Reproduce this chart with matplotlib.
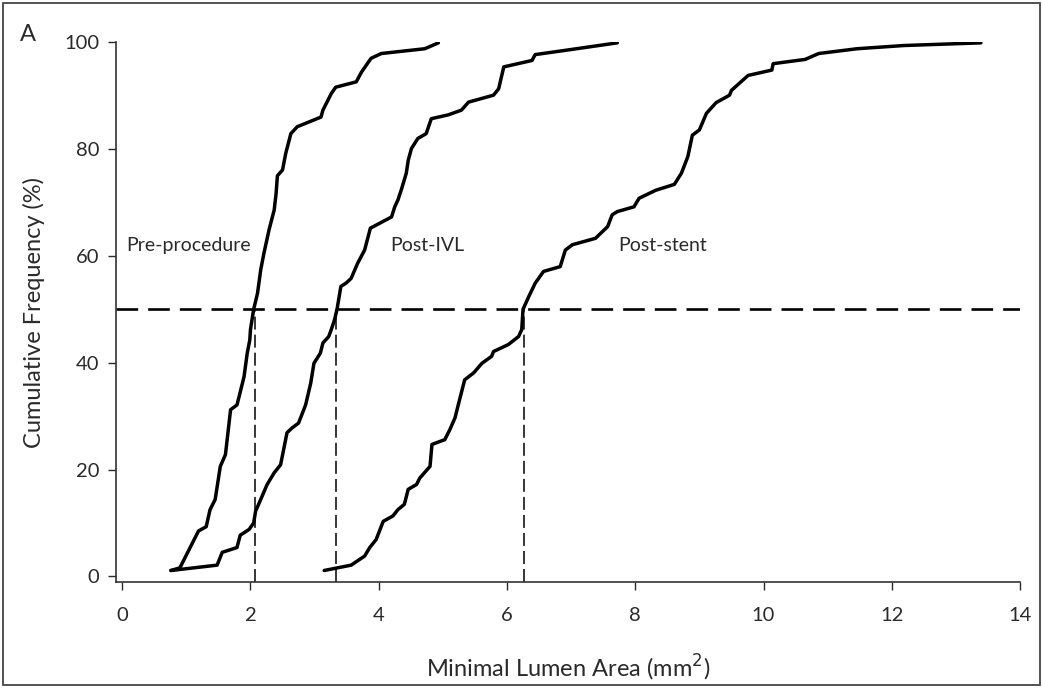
import matplotlib
matplotlib.use("Agg")
import matplotlib.pyplot as plt
from matplotlib.patches import Rectangle

# ==========================================
# DATA
# ==========================================
pre_x = [0.76, 0.90, 1.03, 1.19, 1.31, 1.37, 1.45, 1.53, 1.61, 1.69, 1.79, 1.83, 1.90,
         1.95, 1.99, 2.00, 2.05, 2.11, 2.16, 2.21, 2.29, 2.37, 2.40, 2.42, 2.50, 2.55,
         2.63, 2.73, 3.10, 3.13, 3.26, 3.33, 3.65, 3.73, 3.88, 4.04, 4.72, 4.93]
pre_y = [1.1, 1.6, 4.7, 8.5, 9.3, 12.5, 14.4, 20.6, 22.8, 31.2, 32.1, 34.0, 37.4,
         41.8, 44.3, 46.2, 50.0, 53.0, 57.4, 60.5, 64.9, 68.6, 71.7, 75.0, 76.1, 79.2,
         82.9, 84.2, 86.0, 87.3, 90.4, 91.6, 92.6, 94.4, 97.0, 97.9, 98.8, 99.9]

ivl_x = [0.76, 1.48, 1.56, 1.79, 1.84, 1.98, 2.05, 2.08, 2.16, 2.26, 2.37, 2.47, 2.57,
         2.65, 2.75, 2.86, 2.94, 2.99, 3.09, 3.13, 3.22, 3.26, 3.31, 3.35, 3.41, 3.49,
         3.57, 3.67, 3.78, 3.87, 4.20, 4.25, 4.30, 4.35, 4.43, 4.46, 4.51, 4.61, 4.74,
         4.82, 5.08, 5.29, 5.40, 5.79, 5.87, 5.95, 6.39, 6.44, 6.97, 7.72]
ivl_y = [1.1, 2.1, 4.5, 5.4, 7.7, 8.8, 10.0, 12.2, 14.4, 17.2, 19.4, 20.9, 26.9,
         27.8, 28.7, 32.1, 36.2, 39.9, 41.8, 43.7, 44.9, 46.2, 48.0, 50.0, 54.3, 54.9,
         55.8, 58.6, 61.1, 65.2, 67.3, 69.2, 70.5, 72.3, 75.5, 77.9, 80.1, 82.0, 82.9,
         85.7, 86.4, 87.3, 88.8, 90.1, 91.3, 95.4, 96.6, 97.7, 98.6, 99.9]

stent_x = [3.15, 3.57, 3.78, 3.86, 3.96, 4.07, 4.22, 4.30, 4.40, 4.46, 4.59, 4.64, 4.80,
           4.83, 5.03, 5.11, 5.19, 5.24, 5.34, 5.48, 5.61, 5.76, 5.79, 6.02, 6.18, 6.23,
           6.25, 6.34, 6.44, 6.57, 6.83, 6.91, 7.02, 7.38, 7.57, 7.64, 7.72, 7.98, 8.06,
           8.32, 8.61, 8.72, 8.82, 8.89, 9.00, 9.11, 9.26, 9.47, 9.50, 9.76, 10.13, 10.15,
           10.65, 10.86, 11.46, 12.19, 13.39]
stent_y = [1.1, 2.1, 3.8, 5.4, 6.9, 10.3, 11.3, 12.5, 13.5, 16.3, 17.2, 18.4, 20.6,
           24.7, 25.6, 27.5, 29.7, 32.1, 36.8, 38.1, 39.9, 41.2, 42.1, 43.4, 44.9, 46.2,
           50.0, 52.4, 54.9, 57.1, 58.0, 61.1, 62.1, 63.3, 65.5, 67.7, 68.3, 69.2, 70.8,
           72.3, 73.4, 75.5, 78.6, 82.6, 83.6, 86.7, 88.7, 90.1, 91.0, 93.8, 94.8, 96.0,
           96.8, 97.9, 98.8, 99.4, 99.9]

medians = [2.07, 3.34, 6.26]
median_level = 50

curve_labels = ["Pre-procedure", "Post-IVL", "Post-stent"]
label_x = [0.07, 4.18, 7.74]
label_y = 62

x_ticks = [0, 2, 4, 6, 8, 10, 12, 14]
y_ticks = [0, 20, 40, 60, 80, 100]

# ==========================================
# PLOT
# ==========================================
plt.rcParams["font.family"] = ["Lato", "DejaVu Sans"]
txt_col = "#2a2a2a"

fig = plt.figure(figsize=(10.43, 6.88), dpi=100)
ax = fig.add_axes([0.111, 0.1545, 0.867, 0.784])

for xs, ys in [(pre_x, pre_y), (ivl_x, ivl_y), (stent_x, stent_y)]:
    ax.plot(xs, ys, color="black", lw=2.5, solid_joinstyle="round", solid_capstyle="round")

# 50% reference line + medians
ax.plot([-0.1, 14], [median_level, median_level], color="black", lw=1.9,
        dashes=(8.2, 3.8), zorder=1)
for m in medians:
    ax.plot([m, m], [-1, median_level], color="black", lw=1.1, dashes=(8.5, 3.3), zorder=1)

for lbl, lx in zip(curve_labels, label_x):
    ax.text(lx, label_y, lbl, fontsize=14, va="center", ha="left", color=txt_col)

ax.set_xlim(-0.1, 14)
ax.set_ylim(-1, 100)
ax.set_xticks(x_ticks)
ax.set_yticks(y_ticks)
ax.tick_params(direction="out", length=6, width=1.0, labelsize=14.5, colors=txt_col)
ax.tick_params(axis="x", pad=12)
ax.tick_params(axis="y", pad=6)
ax.spines["top"].set_visible(False)
ax.spines["right"].set_visible(False)
for s in ["left", "bottom"]:
    ax.spines[s].set_linewidth(1.2)
    ax.spines[s].set_color("#333333")

ax.set_xlabel("Minimal Lumen Area (mm$^2$)", fontsize=17, labelpad=21, color=txt_col)
ax.set_ylabel("Cumulative Frequency (%)", fontsize=17, labelpad=14, color=txt_col)

fig.text(0.019, 0.965, "A", fontsize=17, va="top", ha="left", color=txt_col)

# outer frame around the whole panel
fig.patches.append(Rectangle((0.003, 0.004), 0.994, 0.992, transform=fig.transFigure,
                             fill=False, edgecolor="#444444", lw=1.3))

fig.savefig("out.png", dpi=100)
